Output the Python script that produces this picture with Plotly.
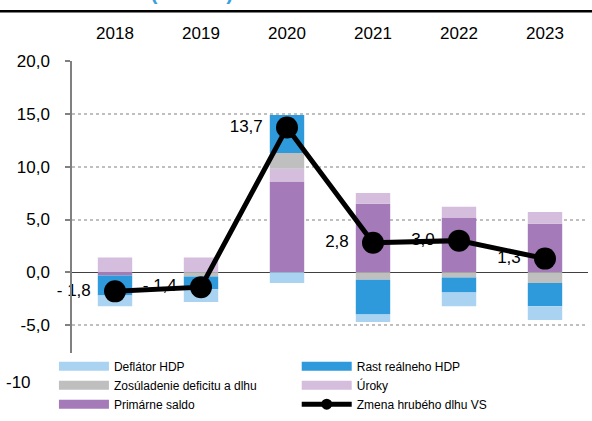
import plotly.graph_objects as go

# roky
years = ["2018", "2019", "2020", "2021", "2022", "2023"]

# príspevky k zmene dlhu (p. b.)
primarne_saldo = [-0.3, 0.0, 8.6, 6.5, 5.2, 4.6]
uroky = [1.4, 1.4, 1.2, 1.0, 1.0, 1.1]
zosuladenie = [0.0, -0.4, 1.5, -0.7, -0.5, -1.0]
rast_hdp = [-1.9, -1.2, 3.6, -3.3, -1.4, -2.2]
deflator = [-1.0, -1.2, -1.0, -0.7, -1.3, -1.3]

# zmena hrubého dlhu VS
zmena_dlhu = [-1.8, -1.4, 13.7, 2.8, 3.0, 1.3]

y_tickvals = [-5, 0, 5, 10, 15, 20]
y_ticktext = ["-5,0", "0,0", "5,0", "10,0", "15,0", "20,0"]

FONT = "Liberation Sans, Arial, sans-serif"

C_DEFL = "#AAD3F2"
C_RAST = "#2E9ADB"
C_ZOS = "#BFBFBF"
C_UROK = "#D5BDDD"
C_PRIM = "#A47AB8"


def fmt(v):
    s = f"{abs(v):.1f}".replace(".", ",")
    s = "- " + s if v < 0 else s
    return s + "\u00a0\u00a0"


fig = go.Figure()

# poradie stohovania: primárne saldo najbližšie k nule
for name, vals, col in [
    ("Primárne saldo", primarne_saldo, C_PRIM),
    ("Úroky", uroky, C_UROK),
    ("Zosúladenie deficitu a dlhu", zosuladenie, C_ZOS),
    ("Rast reálneho HDP", rast_hdp, C_RAST),
    ("Deflátor HDP", deflator, C_DEFL),
]:
    fig.add_trace(go.Bar(x=years, y=vals, name=name, marker_color=col,
                         marker_line_width=0, width=0.4, showlegend=False))

fig.add_trace(go.Scatter(
    x=years, y=zmena_dlhu, name="Zmena hrubého dlhu VS",
    mode="lines+markers+text",
    line=dict(color="black", width=5),
    marker=dict(color="black", size=22),
    text=[fmt(v) for v in zmena_dlhu],
    textposition="middle left",
    textfont=dict(size=17, color="black", family=FONT),
    cliponaxis=False,
    showlegend=False,
))

# legenda v dvoch stĺpcoch
legend_items = [
    ("legend", "Deflátor HDP", C_DEFL, False),
    ("legend", "Zosúladenie deficitu a dlhu", C_ZOS, False),
    ("legend", "Primárne saldo", C_PRIM, False),
    ("legend2", "Rast reálneho HDP", C_RAST, False),
    ("legend2", "Úroky", C_UROK, False),
    ("legend2", "Zmena hrubého dlhu VS", "black", True),
]
for lg, name, col, is_line in legend_items:
    if is_line:
        fig.add_trace(go.Scatter(x=[None], y=[None], name=name, legend=lg,
                                 mode="lines+markers",
                                 line=dict(color=col, width=5),
                                 marker=dict(color=col, size=11)))
    else:
        fig.add_trace(go.Scatter(x=[None], y=[None], name=name, legend=lg,
                                 mode="lines", line=dict(color=col, width=9)))

leg_common = dict(
    orientation="v", xanchor="left", yanchor="top",
    bgcolor="rgba(0,0,0,0)", borderwidth=0,
    font=dict(family=FONT, size=12, color="black"),
    itemwidth=50, traceorder="normal",
)

fig.update_layout(
    width=592, height=421,
    margin=dict(l=72, r=4, t=61, b=43, autoexpand=False),
    paper_bgcolor="white", plot_bgcolor="white",
    font=dict(family=FONT, size=17, color="black"),
    barmode="relative",
    legend=dict(x=-0.035, y=0.083, **leg_common),
    legend2=dict(x=0.4355, y=0.083, **leg_common),
    xaxis=dict(
        type="category", side="top", showgrid=False, showline=False,
        ticks="", ticklabelstandoff=18, tickfont=dict(size=17),
        zeroline=False, automargin=False,
    ),
    yaxis=dict(
        range=[-10, 20], tickvals=y_tickvals, ticktext=y_ticktext,
        showline=True, linecolor="#808080", linewidth=1.5,
        ticks="outside", ticklen=5, tickcolor="#808080", tickwidth=1.5,
        ticklabelstandoff=12, tickfont=dict(size=17), automargin=False,
        showgrid=True, gridcolor="#BFBFBF", gridwidth=1.5, griddash="dot",
        zeroline=True, zerolinecolor="#404040", zerolinewidth=1.2,
    ),
    shapes=[
        # čiara pod nadpisom
        dict(type="line", xref="paper", yref="paper", x0=-0.5, x1=1.5,
             y0=1.1566, y1=1.1566, line=dict(color="black", width=2.5)),
        # biele pozadie legendy prekrývajúce spodok osi
        dict(type="rect", xref="paper", yref="paper", x0=-0.02, x1=1.01,
             y0=-0.2, y1=0.079, fillcolor="white", line_width=0, layer="above"),
    ],
    annotations=[
        dict(text="-10", xref="paper", yref="y", x=-0.076, y=-10,
             xanchor="right", yanchor="middle", yshift=-4, showarrow=False,
             font=dict(size=17)),
        dict(text="<b>Zmena hrubého dlhu (% HDP)</b>", xref="paper", yref="paper",
             x=(235 - 72) / 516, y=1.1735, xanchor="right", yanchor="bottom",
             showarrow=False, font=dict(size=21, color="#3BA0DC")),
    ],
)

fig.write_html("out.html", config={"displayModeBar": False},
               post_script="document.body.style.margin='0';")
